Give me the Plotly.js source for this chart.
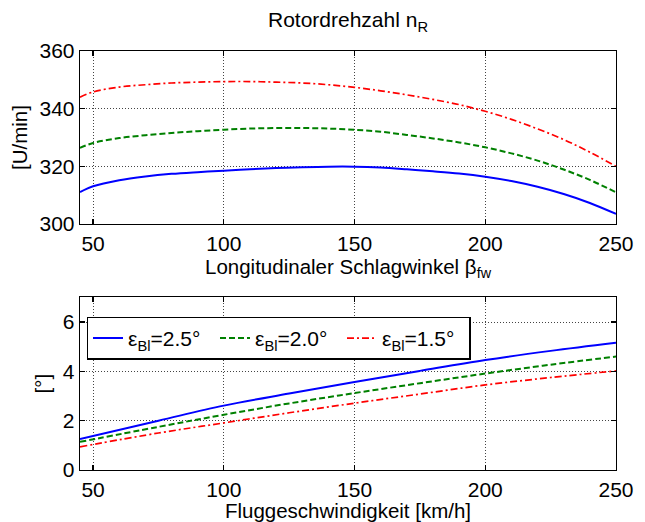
<!DOCTYPE html>
<html>
<head>
<meta charset="utf-8">
<script src="https://cdn.plot.ly/plotly-3.0.1.min.js"></script>
<style>
  html, body { margin: 0; padding: 0; background: #fff; }
  #chart { width: 645px; height: 522px; }
</style>
</head>
<body>
<div id="chart"></div>
<script>
// Rotor speed vs. longitudinal flapping angle (upper panel)
const betaFw = [45, 50, 60, 70, 80, 90, 100, 110, 120, 130, 140, 150, 160, 170, 180, 190, 200, 210, 220, 230, 240, 250];
const nR_25 = [311.1, 313.1, 315.2, 316.5, 317.4, 318.0, 318.5, 319.0, 319.4, 319.7, 319.9, 319.9, 319.6, 319.0, 318.3, 317.5, 316.4, 314.9, 312.9, 310.4, 307.3, 303.5];
const nR_20 = [326.4, 328.1, 329.8, 330.8, 331.6, 332.2, 332.7, 333.1, 333.3, 333.3, 333.1, 332.7, 332.0, 330.9, 329.7, 328.3, 326.6, 324.5, 322.0, 318.9, 315.3, 311.0];
const nR_15 = [344.0, 345.8, 347.5, 348.3, 348.9, 349.2, 349.4, 349.4, 349.2, 348.9, 348.3, 347.4, 346.2, 344.8, 343.2, 341.4, 339.1, 336.3, 333.0, 329.3, 324.9, 320.0];

// Angle vs. flight speed (lower panel)
const speed = [45, 75, 100, 125, 150, 175, 200, 225, 250];
const ang_25 = [1.26, 2.00, 2.61, 3.10, 3.57, 4.02, 4.46, 4.83, 5.16];
const ang_20 = [1.14, 1.75, 2.24, 2.70, 3.12, 3.52, 3.91, 4.27, 4.60];
const ang_15 = [0.94, 1.50, 1.91, 2.32, 2.71, 3.08, 3.45, 3.75, 4.02];

const seriesNames = ['ε<sub>Bl</sub>=2.5°', 'ε<sub>Bl</sub>=2.0°', 'ε<sub>Bl</sub>=1.5°'];
const xTicks = [50, 100, 150, 200, 250];
const yTicksTop = [300, 320, 340, 360];
const yTicksBottom = [0, 2, 4, 6];

const styles = [
  { color: '#0000ff', width: 2, dash: 'solid', shape: 'spline', smoothing: 1 },
  { color: '#008000', width: 2, dash: '6px,3px', shape: 'spline', smoothing: 1 },
  { color: '#ff0000', width: 1.7, dash: '7px,3px,2px,3px', shape: 'spline', smoothing: 1 }
];

const FONT = 'Liberation Sans, Arial, sans-serif';

const topSeries = [nR_25, nR_20, nR_15];
const bottomSeries = [ang_25, ang_20, ang_15];

const traces = [];
topSeries.forEach((ys, i) => {
  traces.push({
    x: betaFw, y: ys, type: 'scatter', mode: 'lines',
    xaxis: 'x', yaxis: 'y', line: styles[i], showlegend: false, hoverinfo: 'skip'
  });
});
bottomSeries.forEach((ys, i) => {
  traces.push({
    x: speed, y: ys, type: 'scatter', mode: 'lines', name: seriesNames[i],
    xaxis: 'x2', yaxis: 'y2', line: styles[i], showlegend: true, hoverinfo: 'skip'
  });
});

const axisCommon = {
  showline: true, linecolor: '#000', linewidth: 1.3, mirror: 'ticks',
  ticks: 'inside', ticklen: 5, tickwidth: 1.3, tickcolor: '#000',
  showgrid: true, gridcolor: '#444', griddash: '1px,2px', gridwidth: 1,
  zeroline: false, tickfont: { family: FONT, size: 21, color: '#000' }
};

const titleFont = { family: FONT, size: 20.5, color: '#000' };

const layout = {
  width: 645, height: 522,
  margin: { l: 80, r: 29, t: 51, b: 52 },
  paper_bgcolor: '#fff', plot_bgcolor: '#fff',
  font: { family: FONT, color: '#000' },
  title: {
    text: 'Rotordrehzahl n<sub>R</sub>',
    font: { family: FONT, size: 21, color: '#000' },
    xref: 'paper', x: 0.5, xanchor: 'center',
    yref: 'container', y: 0.962, yanchor: 'middle'
  },
  xaxis: Object.assign({}, axisCommon, {
    anchor: 'y', domain: [0, 1], range: [45, 250], tickvals: xTicks,
    title: { text: 'Longitudinaler Schlagwinkel β<sub>fw</sub>', font: titleFont, standoff: 3 }
  }),
  yaxis: Object.assign({}, axisCommon, {
    anchor: 'x', domain: [0.587, 1], range: [300, 360], tickvals: yTicksTop,
    title: { text: '[U/min]', font: titleFont, standoff: 6 }
  }),
  xaxis2: Object.assign({}, axisCommon, {
    anchor: 'y2', domain: [0, 1], range: [45, 250], tickvals: xTicks,
    title: { text: 'Fluggeschwindigkeit [km/h]', font: titleFont, standoff: 2 }
  }),
  yaxis2: Object.assign({}, axisCommon, {
    anchor: 'x2', domain: [0, 0.412], range: [0, 7], tickvals: yTicksBottom,
    title: { text: '[°]', font: titleFont, standoff: 6 }
  }),
  legend: {
    orientation: 'h', x: 0.0125, y: 0.366, xanchor: 'left', yanchor: 'top',
    xref: 'paper', yref: 'paper',
    bgcolor: '#fff', bordercolor: '#000', borderwidth: 1.3,
    font: { family: FONT, size: 21, color: '#000' },
    itemwidth: 30, entrywidth: 82, entrywidthmode: 'pixels'
  },
  showlegend: true
};

Plotly.newPlot('chart', traces, layout, { staticPlot: true, displayModeBar: false });
</script>
</body>
</html>
